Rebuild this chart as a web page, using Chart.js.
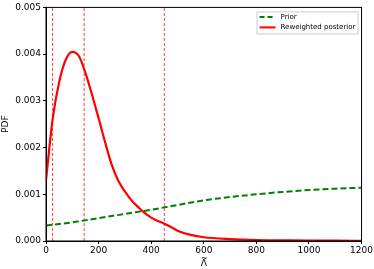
<!DOCTYPE html>
<html>
<head>
<meta charset="utf-8">
<script src="https://cdn.jsdelivr.net/npm/chart.js@4/dist/chart.umd.min.js"></script>
<style>
    html, body {margin: 0; padding: 0; background: #fff;}
    #wrap {width: 374px; height: 269px;}
</style>
</head>
<body>
<div id="wrap"><canvas id="pdfChart" width="374" height="269"></canvas></div>
<script>
// Data
const priorX = [0, 100, 200, 300, 400, 500, 600, 700, 800, 900, 1000, 1100, 1200];
const priorY = [0.00033, 0.00040, 0.00049, 0.00058, 0.00067, 0.00077, 0.00087, 0.00094, 0.00100, 0.00105, 0.00109, 0.00112, 0.00114];

const postX = [0, 25, 50, 75, 100, 125, 150, 175, 200, 225, 250, 275, 300, 325, 350, 375, 400, 425, 450, 475, 500, 550, 600, 700, 800, 900, 1000, 1100, 1200];
const postY = [0.0013, 0.0026, 0.0034, 0.00388, 0.00405, 0.00396, 0.0036, 0.00313, 0.00263, 0.00211, 0.00163, 0.00129, 0.00106, 0.00087, 0.00073, 0.0006, 0.0005, 0.00043, 0.00037, 0.0003, 0.00022, 0.00013, 0.00008, 0.00004, 0.00002, 0.000015, 0.00001, 0.000008, 0.000005];

const markerLines = [25, 145, 450];
const xTicks = [0, 200, 400, 600, 800, 1000, 1200];
const yTicks = [0, 0.001, 0.002, 0.003, 0.004, 0.005];

const legendItems = [
    {label: 'Prior', color: 'green', dash: [5, 3]},
    {label: 'Reweighted posterior', color: 'red', dash: []}
];

const FONT = 'DejaVu Sans';

const toPoints = (xs, ys) => xs.map((x, i) => ({x, y: ys[i]}));

const datasets = [
    {
        label: 'Prior',
        data: toPoints(priorX, priorY),
        borderColor: 'green',
        borderWidth: 2,
        borderDash: [6, 3],
        pointRadius: 0,
        cubicInterpolationMode: 'monotone'
    },
    {
        label: 'Reweighted posterior',
        data: toPoints(postX, postY),
        borderColor: 'red',
        borderWidth: 2.2,
        pointRadius: 0,
        cubicInterpolationMode: 'monotone'
    },
    ...markerLines.map(x => ({
        label: 'marker',
        data: [{x, y: 0}, {x, y: 0.005}],
        borderColor: 'rgba(255,0,0,0.75)',
        borderWidth: 1,
        borderDash: [3, 2],
        pointRadius: 0
    }))
];

// box around plot, tilde on the x title, legend inside
const framePlugin = {
    id: 'frame',
    afterDraw(chart) {
        const {ctx, chartArea: a} = chart;
        ctx.save();
        ctx.strokeStyle = '#000';
        ctx.lineWidth = 1;
        ctx.strokeRect(a.left, a.top, a.right - a.left, a.bottom - a.top);

        // tilde over Λ
        const xs = chart.scales.x;
        ctx.fillStyle = '#000';
        ctx.font = `8px "${FONT}"`;
        ctx.textAlign = 'center';
        ctx.textBaseline = 'alphabetic';
        ctx.fillText('~', (xs.left + xs.right) / 2 + 0.5, xs.bottom - 8);

        // legend
        ctx.textAlign = 'left';
        ctx.textBaseline = 'middle';
        const bx = a.right - 105, by = a.top + 4, bw = 101, bh = 22;
        ctx.fillStyle = 'rgba(255,255,255,0.8)';
        ctx.strokeStyle = '#ccc';
        ctx.fillRect(bx, by, bw, bh);
        ctx.strokeRect(bx + 0.5, by + 0.5, bw, bh);
        ctx.font = `7px "${FONT}"`;
        legendItems.forEach((it, i) => {
            const y = by + 5.5 + i * 10.5;
            ctx.beginPath();
            ctx.setLineDash(it.dash);
            ctx.strokeStyle = it.color;
            ctx.lineWidth = 2;
            ctx.moveTo(bx + 3, y);
            ctx.lineTo(bx + 19, y);
            ctx.stroke();
            ctx.setLineDash([]);
            ctx.fillStyle = '#000';
            ctx.fillText(it.label, bx + 24, y);
        });
        ctx.restore();
    }
};

new Chart(document.getElementById('pdfChart'), {
    type: 'line',
    data: {datasets},
    options: {
        responsive: false,
        animation: false,
        layout: {padding: {left: 0, right: 12, top: 6, bottom: 0}},
        plugins: {
            legend: {display: false},
            tooltip: {enabled: false}
        },
        scales: {
            x: {
                type: 'linear',
                min: 0,
                max: 1200,
                afterFit: s => { s.height = 28; },
                afterBuildTicks: s => { s.ticks = xTicks.map(v => ({value: v})); },
                grid: {drawOnChartArea: false, tickLength: 3, color: '#000'},
                border: {display: true, color: '#000'},
                ticks: {color: '#000', font: {family: FONT, size: 9}, padding: 1, maxRotation: 0, callback: v => String(v)},
                title: {display: true, text: 'Λ', color: '#000', font: {family: FONT, size: 9}, padding: {top: 0, bottom: 0}}
            },
            y: {
                min: 0,
                max: 0.005,
                afterFit: s => { s.width = 46; },
                afterBuildTicks: s => { s.ticks = yTicks.map(v => ({value: v})); },
                grid: {drawOnChartArea: false, tickLength: 3, color: '#000'},
                border: {display: true, color: '#000'},
                ticks: {color: '#000', font: {family: FONT, size: 9}, padding: 2, callback: v => v.toFixed(3)},
                title: {display: true, text: 'PDF', color: '#000', font: {family: FONT, size: 9}, padding: {top: 0, bottom: 2}}
            }
        }
    },
    plugins: [framePlugin]
});
</script>
</body>
</html>
